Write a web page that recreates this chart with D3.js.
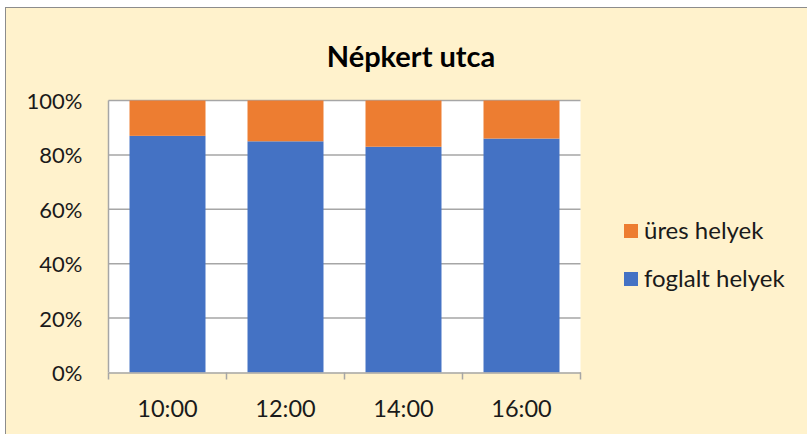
<!DOCTYPE html>
<html><head><meta charset="utf-8">
<script src="https://cdn.jsdelivr.net/npm/d3@7"></script>
<style>body{margin:0;background:#fff}svg{display:block}</style>
</head><body>
<svg id="c" width="807" height="434"></svg>
<script>
const categories = ["10:00", "12:00", "14:00", "16:00"];
const foglalt = [87, 85, 83, 86];
const ures = [13, 15, 17, 14];
const seriesNames = ["foglalt helyek", "üres helyek"];
const yTicks = [0, 20, 40, 60, 80, 100];
const title = "Népkert utca";

const svg = d3.select("#c");
const font = "Lato, 'Open Sans', sans-serif";
svg.append("rect").attr("x", 5.5).attr("y", 7.5).attr("width", 810).attr("height", 440)
  .attr("fill", "#FFF2CC").attr("stroke", "#8c8c8c").attr("stroke-width", 1);

const m = {left: 108.5, right: 580.5, top: 100.5, bottom: 372.5};
const x = d3.scaleBand().domain(categories).range([m.left, m.right]).paddingInner(0.356).paddingOuter(0.178);
const y = d3.scaleLinear().domain([0, 100]).range([m.bottom, m.top]);

svg.append("rect").attr("x", m.left).attr("y", m.top).attr("width", m.right - m.left).attr("height", m.bottom - m.top).attr("fill", "#fff");

// gridlines
svg.append("g").selectAll("line").data(yTicks.filter(d => d > 0)).join("line")
  .attr("x1", m.left).attr("x2", m.right).attr("y1", d => y(d)).attr("y2", d => y(d))
  .attr("stroke", "#a6a6a6").attr("stroke-width", 1.5);

const rows = categories.map((c, i) => ({cat: c, foglalt: foglalt[i], ures: ures[i]}));
const stack = d3.stack().keys(["foglalt", "ures"])(rows);
const colors = {foglalt: "#4472C4", ures: "#ED7D31"};
svg.append("g").selectAll("g").data(stack).join("g").attr("fill", d => colors[d.key])
  .selectAll("rect").data(d => d).join("rect")
  .attr("x", d => x(d.data.cat)).attr("width", x.bandwidth())
  .attr("y", d => y(d[1])).attr("height", d => y(d[0]) - y(d[1]));

// y axis line
svg.append("line").attr("x1", m.left).attr("x2", m.left).attr("y1", m.top).attr("y2", m.bottom).attr("stroke", "#a6a6a6").attr("stroke-width", 1.5);

// x axis
const xAxis = svg.append("g").attr("transform", `translate(0,${m.bottom})`)
  .call(d3.axisBottom(x).tickSize(0).tickPadding(0));
xAxis.select(".domain").attr("stroke", "#a6a6a6").attr("stroke-width", 1.5);
xAxis.selectAll("text").attr("font-family", font).attr("font-size", 23.5).attr("fill", "#1a1a1a")
  .attr("dy", null).attr("y", 44.5);
const bounds = d3.range(categories.length + 1).map(i => m.left + i * (m.right - m.left) / categories.length);
svg.append("g").selectAll("line").data(bounds).join("line")
  .attr("x1", d => d).attr("x2", d => d).attr("y1", m.bottom).attr("y2", m.bottom + 7)
  .attr("stroke", "#a6a6a6").attr("stroke-width", 1.5);

// y axis labels
const yAxis = svg.append("g").attr("transform", `translate(${m.left},0)`)
  .call(d3.axisLeft(y).tickValues(yTicks).tickSize(0).tickPadding(26).tickFormat(d => d + "%"));
yAxis.select(".domain").remove();
yAxis.selectAll("text").attr("font-family", font).attr("font-size", 22).attr("fill", "#1a1a1a")
  .attr("dy", null).attr("y", 8);

// title
svg.append("text").attr("x", 411).attr("y", 67).attr("text-anchor", "middle")
  .attr("font-family", font).attr("font-weight", "bold").attr("font-size", 29).attr("fill", "#000").text(title);

// legend
const legendItems = [{k: "ures", name: seriesNames[1]}, {k: "foglalt", name: seriesNames[0]}];
const lg = svg.append("g").selectAll("g").data(legendItems).join("g")
  .attr("transform", (d, i) => `translate(624,${224 + i * 48})`);
lg.append("rect").attr("width", 14).attr("height", 14).attr("fill", d => colors[d.k]);
lg.append("text").attr("x", 20).attr("y", 15).attr("font-family", font).attr("font-size", 24).attr("fill", "#1a1a1a").text(d => d.name);
</script>
</body></html>
